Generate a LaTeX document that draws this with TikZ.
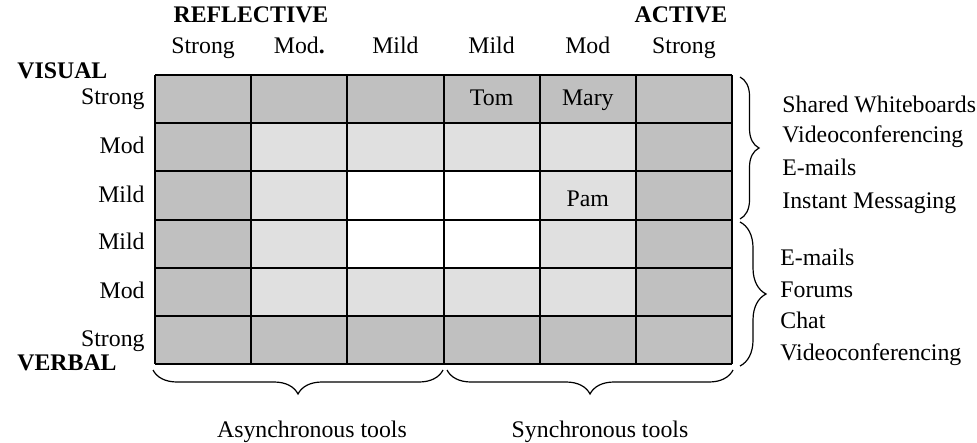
\documentclass[tikz,border=0pt]{standalone}
\usepackage{fontspec}
\setmainfont{Liberation Serif}
\usetikzlibrary{decorations.pathreplacing}

\definecolor{darkcell}{RGB}{192,192,192}
\definecolor{lightcell}{RGB}{224,224,224}

\tikzset{
  lbl/.style={inner sep=0pt, font=\fontsize{11.9}{14}\selectfont},
  hd/.style={inner sep=0pt, font=\fontsize{11.9}{14}\selectfont\bfseries},
  brc/.style={decorate, decoration={brace, amplitude=#1}, line width=0.6pt},
}

\begin{document}
\begin{tikzpicture}[x=0.5pt, y=-0.5pt]
	\useasboundingbox (0,0) rectangle (977,443);
	% cells
	\fill[darkcell] (155,75) rectangle (732,364);
	\fill[lightcell] (251.2,123.2) rectangle (635.8,315.8);
	\fill[white] (347.3,171.3) rectangle (539.7,267.7);
	\foreach \i in {0,...,6} {
		\draw[line width=1pt] ({155+96.17*\i},75) -- ({155+96.17*\i},364);
		\draw[line width=1pt] (155,{75+48.17*\i}) -- (732,{75+48.17*\i});
	}
	% headings
	\node[hd, anchor=base] (reflective) at (251,23) {REFLECTIVE};
	\node[hd, anchor=base] (active) at (681,23) {ACTIVE};
	\node[hd, anchor=base west] (visual) at (17,79) {VISUAL};
	\node[hd, anchor=base west] (verbal) at (17,370) {VERBAL};
	% column labels
	\node[lbl, anchor=base] (c1) at (203.1,54) {Strong};
	\node[lbl, anchor=base] (c2) at (299.3,54) {Mod\textbf{.}};
	\node[lbl, anchor=base] (c3) at (395.4,54) {Mild};
	\node[lbl, anchor=base] (c4) at (491.6,54) {Mild};
	\node[lbl, anchor=base] (c5) at (587.8,54) {Mod};
	\node[lbl, anchor=base] (c6) at (683.9,54) {Strong};
	% row labels
	\node[lbl, anchor=base east] (r1) at (145,105) {Strong};
	\node[lbl, anchor=base east] (r2) at (145,154) {Mod};
	\node[lbl, anchor=base east] (r3) at (145,202) {Mild};
	\node[lbl, anchor=base east] (r4) at (145,249) {Mild};
	\node[lbl, anchor=base east] (r5) at (145,298) {Mod};
	\node[lbl, anchor=base east] (r6) at (145,346) {Strong};
	% students
	\node[lbl, anchor=base] (tom) at (491.6,106) {Tom};
	\node[lbl, anchor=base] (mary) at (587.8,106) {Mary};
	\node[lbl, anchor=base] (pam) at (587.8,206) {Pam};
	% braces
	\coordinate (sync top) at (740,77);
	\coordinate (sync bot) at (740,219);
	\coordinate (async top) at (740,222);
	\coordinate (async bot) at (740,366);
	\coordinate (left a) at (153,370);
	\coordinate (left b) at (443,370);
	\coordinate (right a) at (447,370);
	\coordinate (right b) at (733,370);
	\draw[brc=9.5] (sync top) -- (sync bot);
	\draw[brc=13] (async top) -- (async bot);
	\draw[brc=12] (left b) -- (left a);
	\draw[brc=12] (right b) -- (right a);
	% tools
	\node[lbl, anchor=base west] (t1) at (782,113) {Shared Whiteboards};
	\node[lbl, anchor=base west] (t2) at (782,143) {Videoconferencing};
	\node[lbl, anchor=base west] (t3) at (782,176) {E-mails};
	\node[lbl, anchor=base west] (t4) at (782,208) {Instant Messaging};
	\node[lbl, anchor=base west] (t5) at (780,265) {E-mails};
	\node[lbl, anchor=base west] (t6) at (780,297) {Forums};
	\node[lbl, anchor=base west] (t7) at (780,328) {Chat};
	\node[lbl, anchor=base west] (t8) at (780,360) {Videoconferencing};
	\node[lbl, anchor=base] (async) at (312,437) {Asynchronous tools};
	\node[lbl, anchor=base] (sync) at (600,437) {Synchronous tools};
\end{tikzpicture}
\end{document}
